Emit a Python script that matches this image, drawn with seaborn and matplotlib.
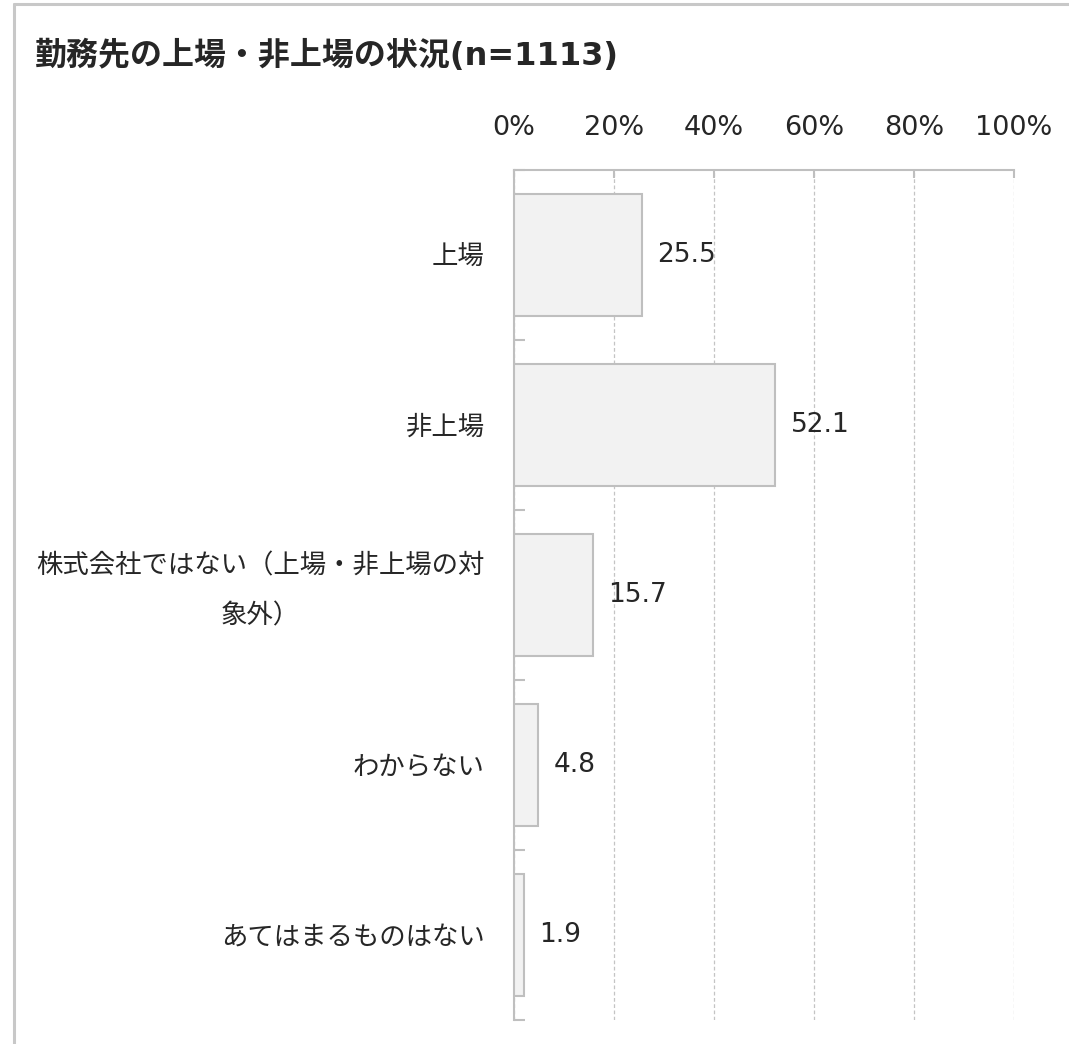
import matplotlib
matplotlib.use('Agg')
import matplotlib.pyplot as plt
import seaborn as sns
import pandas as pd
from matplotlib.lines import Line2D
from matplotlib.transforms import ScaledTranslation

# ---- data ----
categories = ['上場', '非上場', '株式会社ではない（上場・非上場の対\n象外）', 'わからない', 'あてはまるものはない']
values = [25.5, 52.1, 15.7, 4.8, 1.9]
xticks = [0, 20, 40, 60, 80, 100]
xticklabels = ['0%', '20%', '40%', '60%', '80%', '100%']
title = '勤務先の上場・非上場の状況(n=1113)'

sns.set_theme(style='white')
plt.rcParams['font.family'] = ['DejaVu Sans', 'Noto Sans CJK JP']

W, H = 1069, 1044
fig = plt.figure(figsize=(W / 100, H / 100), dpi=100)
fig.patch.set_facecolor('white')
ax = fig.add_axes([514 / W, 1 - 1020 / H, 500 / W, 850 / H])

TEXT = '#262626'
EDGE = '#bfbfbf'

df = pd.DataFrame({'cat': categories, 'val': values})
sns.barplot(data=df, x='val', y='cat', orient='h', color='#f2f2f2', width=0.72,
            edgecolor=EDGE, linewidth=1.5, saturation=1, ax=ax, zorder=3)

ax.set_xlim(0, 100)
ax.set_ylim(4.5, -0.5)
ax.set_xlabel('')
ax.set_ylabel('')

# x axis on top
ax.xaxis.tick_top()
ax.set_xticks(xticks)
ax.set_xticklabels(xticklabels)
ax.tick_params(axis='x', which='major', direction='in', length=6, width=1.5, color=EDGE,
               pad=21, labelsize=19.5, labelcolor=TEXT, top=True, bottom=False)

ax.set_axisbelow(True)
ax.grid(axis='x', linestyle=(0, (3, 2)), color='#c4c4c4', linewidth=0.9)
ax.grid(axis='y', visible=False)

# y axis
ax.set_yticks(range(len(categories)))
ax.set_yticklabels(categories)
ax.tick_params(axis='y', which='major', length=0, pad=21, labelsize=19, labelcolor=TEXT)
ax.set_yticks([i - 0.5 for i in range(len(categories) + 1)], minor=True)
ax.tick_params(axis='y', which='minor', direction='in', length=8, width=1.5, color=EDGE, left=True)
for lbl in ax.get_yticklabels():
    if '\n' in lbl.get_text():
        lbl.set_multialignment('center')
        lbl.set_linespacing(2.2)
        lbl.set_verticalalignment('center')
        lbl.set_transform(lbl.get_transform() + ScaledTranslation(0, 4 / 100, fig.dpi_scale_trans))

for side in ['right', 'bottom']:
    ax.spines[side].set_visible(False)
for side in ['top', 'left']:
    ax.spines[side].set_color(EDGE)
    ax.spines[side].set_linewidth(1.5)

ax.bar_label(ax.containers[0], labels=[f'{v:.1f}' for v in values], padding=11.5,
             fontsize=19, color=TEXT)

# title
fig.text(35 / W, 1 - 56 / H, title, fontsize=23, fontweight='bold', va='center',
         ha='left', color=TEXT)

# outer border (top and left visible)
fig.add_artist(Line2D([14 / W, 14 / W], [0, 1 - 4 / H], transform=fig.transFigure,
                      color='#c8c8c8', lw=2.2))
fig.add_artist(Line2D([14 / W, 1], [1 - 4 / H, 1 - 4 / H], transform=fig.transFigure,
                      color='#c8c8c8', lw=2.2))

fig.savefig('out.png', dpi=100)
